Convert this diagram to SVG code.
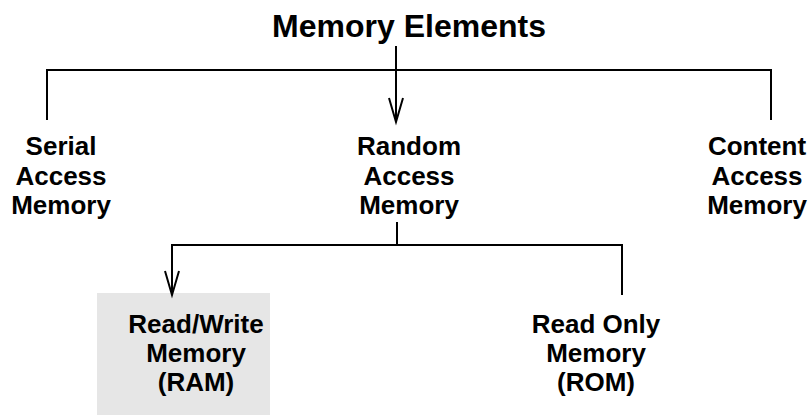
<svg xmlns="http://www.w3.org/2000/svg" width="809" height="415" viewBox="0 0 809 415">
<style>
text{font-family:"Liberation Sans",Arial,sans-serif;font-weight:bold;fill:#000;text-anchor:middle}
.lbl{font-size:26px}
.ttl{font-size:32px}
.ln{fill:none;stroke:#000;stroke-width:2}
</style>
<defs>
<marker id="arr" markerWidth="20" markerHeight="30" refX="8" refY="25" orient="0" markerUnits="userSpaceOnUse">
<path d="M1,1 L8,25 L15,1" fill="none" stroke="#000" stroke-width="2"/>
</marker>
</defs>
<g id="title"><text class="ttl" x="409" y="37">Memory Elements</text></g>
<g id="serial"><text class="lbl" x="61" y="155">Serial</text><text class="lbl" x="61" y="185">Access</text><text class="lbl" x="61" y="214">Memory</text></g>
<g id="random"><text class="lbl" x="409" y="155">Random</text><text class="lbl" x="409" y="185">Access</text><text class="lbl" x="409" y="214">Memory</text></g>
<g id="content"><text class="lbl" x="757" y="155">Content</text><text class="lbl" x="757" y="185">Access</text><text class="lbl" x="757" y="214">Memory</text></g>
<g id="ram"><rect x="97" y="293" width="173" height="122" fill="#e6e6e6"/><text class="lbl" x="196" y="333">Read/Write</text><text class="lbl" x="196" y="362">Memory</text><text class="lbl" x="196" y="391">(RAM)</text></g>
<g id="rom"><text class="lbl" x="596" y="333">Read Only</text><text class="lbl" x="596" y="362">Memory</text><text class="lbl" x="596" y="391">(ROM)</text></g>
<g id="connectors">
<path class="ln" d="M47,120 V70 H771 V120"/>
<path class="ln" d="M396,46 V122" marker-end="url(#arr)"/>
<path class="ln" d="M397,222 V245 H172 V295" marker-end="url(#arr)"/>
<path class="ln" d="M397,245 H622 V295"/>
</g>
</svg>
